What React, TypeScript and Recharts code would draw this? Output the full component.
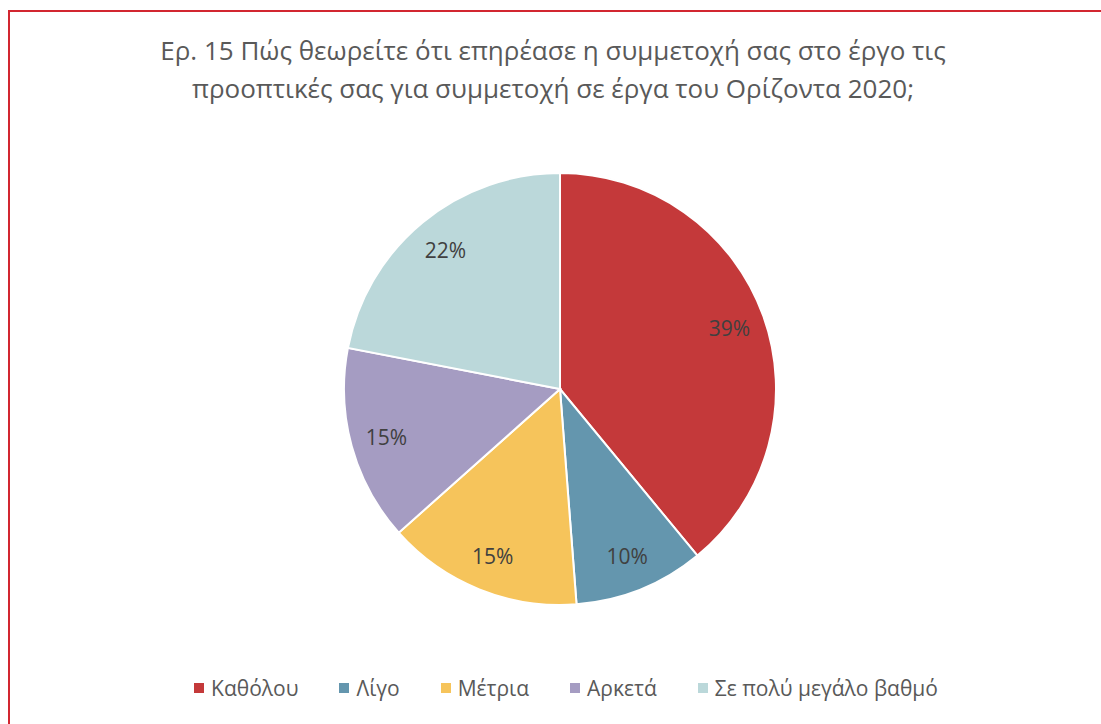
import React from 'react';
import { PieChart, Pie, Cell, Legend } from 'recharts';

// Ερ. 15 – answers (respondent counts)
const categories = ['Καθόλου', 'Λίγο', 'Μέτρια', 'Αρκετά', 'Σε πολύ μεγάλο βαθμό'];
const counts = [16, 4, 6, 6, 9];
const COLORS = ['#C4393A', '#6496AE', '#F6C45B', '#A59CC2', '#BBD8DA'];
const titleLines = [
    'Ερ. 15 Πώς θεωρείτε ότι επηρέασε η συμμετοχή σας στο έργο τις',
    'προοπτικές σας για συμμετοχή σε έργα του Ορίζοντα 2020;',
];

const data = categories.map((name, i) => ({ name, value: counts[i] }));
const total = counts.reduce((a, b) => a + b, 0);

const FONT = '"Open Sans", "Noto Sans", sans-serif';
const RADIAN = Math.PI / 180;

const renderLabel = (props: any) => {
    const { cx, cy, midAngle, value } = props;
    const r = 180;
    const x = cx + r * Math.cos(-midAngle * RADIAN);
    const y = cy + r * Math.sin(-midAngle * RADIAN);
    return (
        <text x={x} y={y} fill="#404040" fontSize={21} fontFamily={FONT} textAnchor="middle" dominantBaseline="central">
            {Math.round((value / total) * 100)}%
        </text>
    );
};

const renderLegend = () => (
    <div style={{ display: 'flex', justifyContent: 'center', fontFamily: FONT, fontSize: 21, color: '#595959' }}>
        {data.map((d, i) => (
            <div key={d.name} style={{ display: 'flex', alignItems: 'center', marginRight: i < data.length - 1 ? 41 : 0 }}>
                <span style={{ width: 10, height: 10, background: COLORS[i], display: 'inline-block', marginRight: 7 }} />
                <span>{d.name}</span>
            </div>
        ))}
    </div>
);

export default function App() {
    return (
        <div style={{ position: 'fixed', left: 0, top: 0, width: 1101, height: 724, background: '#fff', overflow: 'hidden' }}>
            {/* red frame, only top and left edges visible */}
            <div style={{ position: 'absolute', left: 8, top: 10, width: 1200, height: 800, borderTop: '2px solid #D22630', borderLeft: '2px solid #D22630' }} />
            <div style={{ position: 'absolute', left: 0, top: 31, width: 1106, textAlign: 'center', fontFamily: FONT, fontSize: 26, lineHeight: '38px', color: '#595959' }}>
                {titleLines.map((t) => <div key={t}>{t}</div>)}
            </div>
            <div style={{ position: 'absolute', left: 0, top: 0 }}>
                <PieChart width={1101} height={724}>
                    <Pie
                        data={data}
                        dataKey="value"
                        nameKey="name"
                        cx={555}
                        cy={384}
                        outerRadius={216}
                        startAngle={90}
                        endAngle={-270}
                        stroke="#fff"
                        strokeWidth={2}
                        label={renderLabel}
                        labelLine={false}
                        isAnimationActive={false}
                    >
                        {data.map((entry, index) => (
                            <Cell key={`cell-${index}`} fill={COLORS[index % COLORS.length]} />
                        ))}
                    </Pie>
                    <Legend content={renderLegend} wrapperStyle={{ top: 674, left: 0, width: 1132 }} />
                </PieChart>
            </div>
        </div>
    );
}
